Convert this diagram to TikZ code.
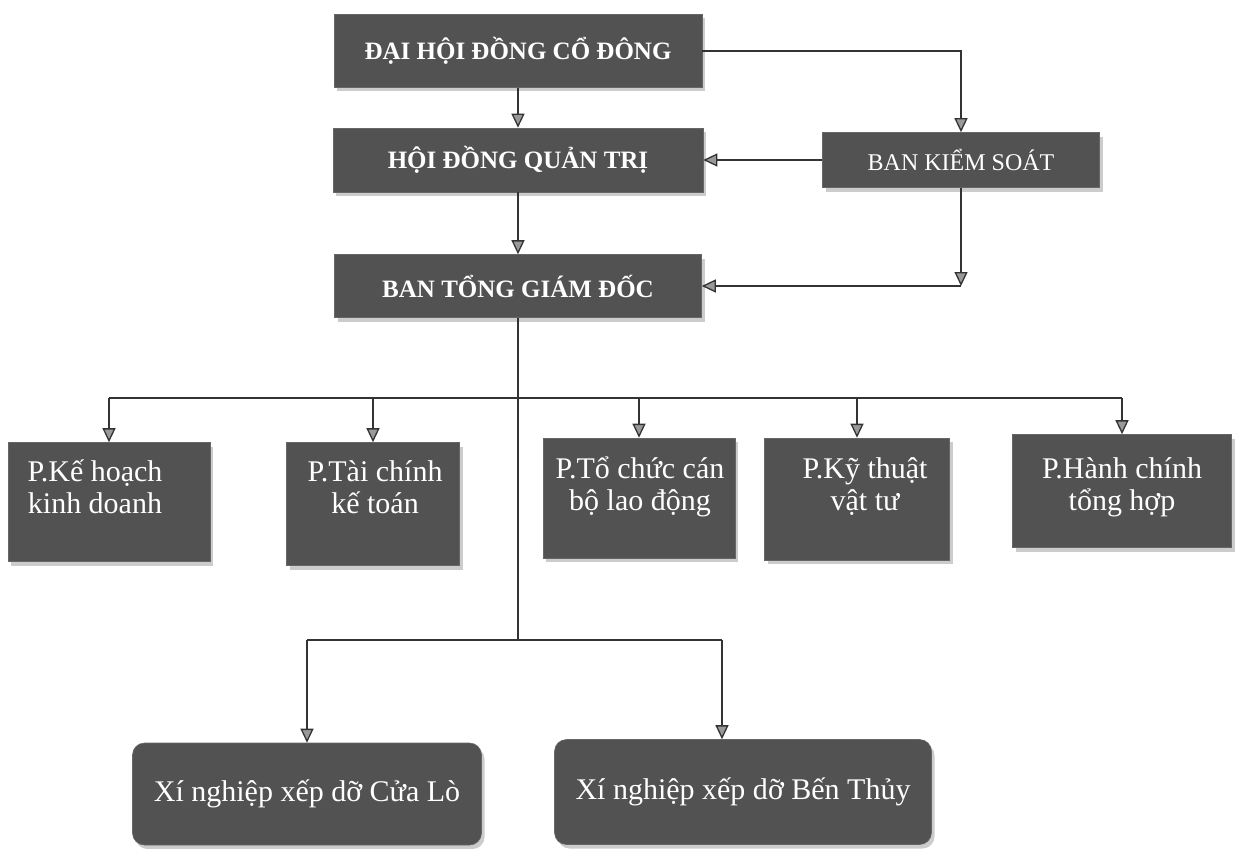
\documentclass[tikz,border=0pt]{standalone}
\usepackage{fontspec}
\setmainfont{Liberation Serif}
\usetikzlibrary{positioning,arrows.meta,shadows}

\tikzset{
  box/.style={draw=black!60, line width=0.6pt, fill=black!68, text=white, inner sep=0pt,
    drop shadow={shadow xshift=3pt, shadow yshift=-4pt, fill=black!40}},
  topbox/.style={box, font=\fontsize{25}{28}\selectfont\bfseries},
  ctrlbox/.style={box, font=\fontsize{24}{27}\selectfont},
  deptbox/.style={box},
  depttext/.style={text=white, align=center, inner sep=0pt, font=\fontsize{30}{32}\selectfont},
  unitbox/.style={box, rounded corners=12pt, font=\fontsize{30}{33}\selectfont},
  line/.style={draw=black!80, line width=1.3pt},
  arr/.style={line, -{Triangle[width=13pt,length=14pt,fill=black!40]}},
}

\begin{document}
\begin{tikzpicture}[x=1pt,y=-1pt]
\useasboundingbox (0,0) rectangle (1238,848);

% top levels
\node[topbox, minimum width=368, minimum height=73] (dhd) at (518,51) {ĐẠI HỘI ĐỒNG CỔ ĐÔNG};
\node[topbox, minimum width=370, minimum height=64] (hdqt) at (518,160) {HỘI ĐỒNG QUẢN TRỊ};
\node[topbox, minimum width=367, minimum height=63] (btgd) at (518,286) {BAN TỔNG GIÁM ĐỐC};
\node[ctrlbox, minimum width=277, minimum height=55] (bks) at (961,160) {BAN KIỂM SOÁT};

% departments
\node[deptbox, minimum width=202, minimum height=119] (kh) at (109,502) {};
\node[deptbox, minimum width=173, minimum height=123] (tc) at (373,504) {};
\node[deptbox, minimum width=192, minimum height=120] (tccb) at (639,498) {};
\node[deptbox, minimum width=185, minimum height=122] (kt) at (857,499) {};
\node[deptbox, minimum width=219, minimum height=113] (hc) at (1122,491) {};
\node[depttext] (khtxt) at (95,487) {P.Kế hoạch\\kinh doanh};
\node[depttext] (tctxt) at (375,487) {P.Tài chính\\kế toán};
\node[depttext] (tccbtxt) at (640,487) {P.Tổ chức cán\\bộ lao động};
\node[depttext] (kttxt) at (865,487) {P.Kỹ thuật\\vật tư};
\node[depttext] (hctxt) at (1122,487) {P.Hành chính\\tổng hợp};

% units
\node[unitbox, minimum width=349, minimum height=102] (xncl) at (307,794) {Xí nghiệp xếp dỡ Cửa Lò};
\node[unitbox, minimum width=377, minimum height=105] (xnbt) at (743,792) {Xí nghiệp xếp dỡ Bến Thủy};

\coordinate (deptbus) at (518,398);
\coordinate (unitbus) at (518,640);
\coordinate (unitR) at (722,640);
\coordinate (bkscorner) at (bks.south |- btgd.east);

\draw[arr] (dhd.south) -- (hdqt.north);
\draw[arr] (dhd.east) -| (bks.north);
\draw[arr] (bks.west) -- (hdqt.east);
\draw[arr] (hdqt.south) -- (btgd.north);
\draw[arr] (bks.south) -- (bkscorner);
\draw[arr] (bkscorner) -- (btgd.east);

\draw[line] (btgd.south) -- (unitbus);
\draw[line] (kh.north |- deptbus) -- (hc.north |- deptbus);
\foreach \d in {kh,tc,tccb,kt,hc}
  \draw[arr] (\d.north |- deptbus) -- (\d.north);

\draw[line] (xncl.north |- unitbus) -- (unitR);
\draw[arr] (xncl.north |- unitbus) -- (xncl.north);
\draw[arr] (unitR) -- (unitR |- xnbt.north);
\end{tikzpicture}
\end{document}
